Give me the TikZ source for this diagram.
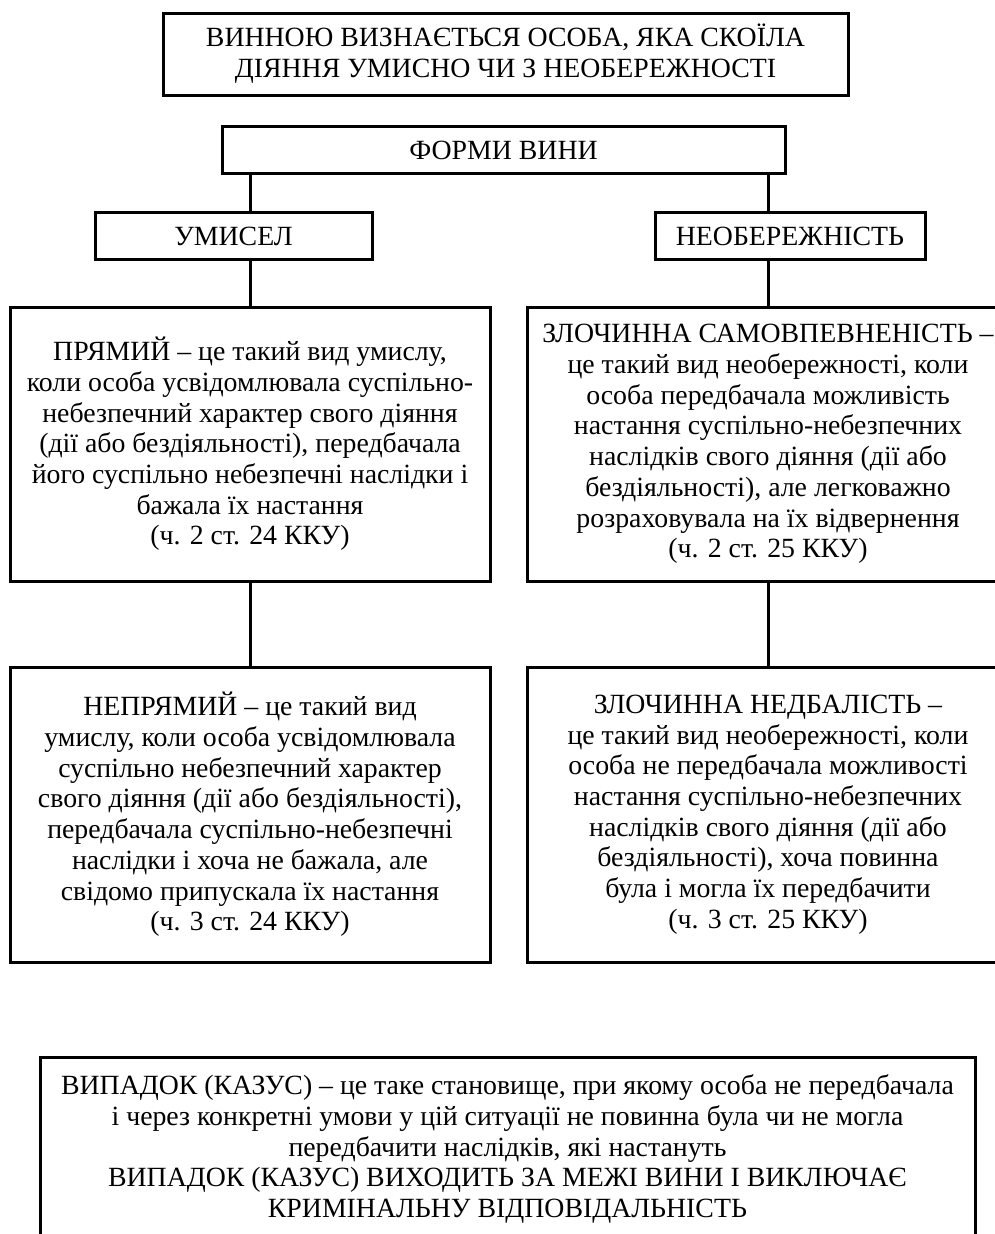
\documentclass[tikz,border=0pt]{standalone}
\usepackage{fontspec}
\setmainfont{Liberation Serif}
\usepackage{tikz}
\usetikzlibrary{positioning}

\begin{document}
\begin{tikzpicture}[x=1pt, y=1pt,
        box/.style ={draw, line width=3pt, align=center, inner sep=0pt,
                     font=\fontsize{27.8}{30.7}\selectfont},
        head/.style={box, minimum height=47pt},
        def/.style ={box, minimum width=480pt},
        link/.style={line width=3pt},
    ]
        \clip (0,0) rectangle (995,-1234);

        % Top: definition of guilt
        \node[box, minimum width=685pt, minimum height=82pt] (guilt) at (505.5,-54)
            {ВИННОЮ ВИЗНАЄТЬСЯ ОСОБА, ЯКА СКОЇЛА\\ДІЯННЯ УМИСНО ЧИ З НЕОБЕРЕЖНОСТІ};

        % Forms of guilt
        \node[head, minimum width=563pt] (forms)  at (503.5,-150) {ФОРМИ ВИНИ};
        \node[head, minimum width=277pt] (intent) at (233.5,-236) {УМИСЕЛ};
        \node[head, minimum width=270pt] (negl)   at (790,-236)   {НЕОБЕРЕЖНІСТЬ};

        % Row 1: direct intent / self-confidence
        \node[def, minimum height=274pt] (direct) at (250,-444)
            {ПРЯМИЙ – це такий вид умислу,\\
             коли особа усвідомлювала суспільно-\\
             небезпечний характер свого діяння\\
             (дії або бездіяльності), передбачала\\
             його суспільно небезпечні наслідки і\\
             бажала їх настання\\
             (ч. 2 ст. 24 ККУ)};
        \node[def, minimum width=482pt, minimum height=274pt] (selfconf) at (768,-444)
            {ЗЛОЧИННА САМОВПЕВНЕНІСТЬ –\\
             це такий вид необережності, коли\\
             особа передбачала можливість\\
             настання суспільно-небезпечних\\
             наслідків свого діяння (дії або\\
             бездіяльності), але легковажно\\
             розраховувала на їх відвернення\\
             (ч. 2 ст. 25 ККУ)};

        % Row 2: indirect intent / negligence
        \node[def, minimum height=295pt] (indirect) at (250,-814.5)
            {НЕПРЯМИЙ – це такий вид\\
             умислу, коли особа усвідомлювала\\
             суспільно небезпечний характер\\
             свого діяння (дії або бездіяльності),\\
             передбачала суспільно-небезпечні\\
             наслідки і хоча не бажала, але\\
             свідомо припускала їх настання\\
             (ч. 3 ст. 24 ККУ)};
        \node[def, minimum width=482pt, minimum height=295pt] (careless) at (768,-814.5)
            {ЗЛОЧИННА НЕДБАЛІСТЬ –\\
             це такий вид необережності, коли\\
             особа не передбачала можливості\\
             настання суспільно-небезпечних\\
             наслідків свого діяння (дії або\\
             бездіяльності), хоча повинна\\
             була і могла їх передбачити\\
             (ч. 3 ст. 25 ККУ)};

        % Bottom: casus
        \node[box, minimum width=935pt, minimum height=184pt] (casus) at (507.5,-1149)
            {ВИПАДОК (КАЗУС) – це таке становище, при якому особа не передбачала\\
             і через конкретні умови у цій ситуації не повинна була чи не могла\\
             передбачити наслідків, які настануть\\
             ВИПАДОК (КАЗУС) ВИХОДИТЬ ЗА МЕЖІ ВИНИ І ВИКЛЮЧАЄ\\
             КРИМІНАЛЬНУ ВІДПОВІДАЛЬНІСТЬ};

        % Links – left column
        \draw[link] (forms.south -| direct) -- (intent.north -| direct);
        \draw[link] (intent.south -| direct) -- (direct.north);
        \draw[link] (direct.south) -- (indirect.north);

        % Links – right column
        \draw[link] (forms.south -| selfconf) -- (negl.north -| selfconf);
        \draw[link] (negl.south -| selfconf) -- (selfconf.north);
        \draw[link] (selfconf.south) -- (careless.north);
    \end{tikzpicture}
\end{document}
